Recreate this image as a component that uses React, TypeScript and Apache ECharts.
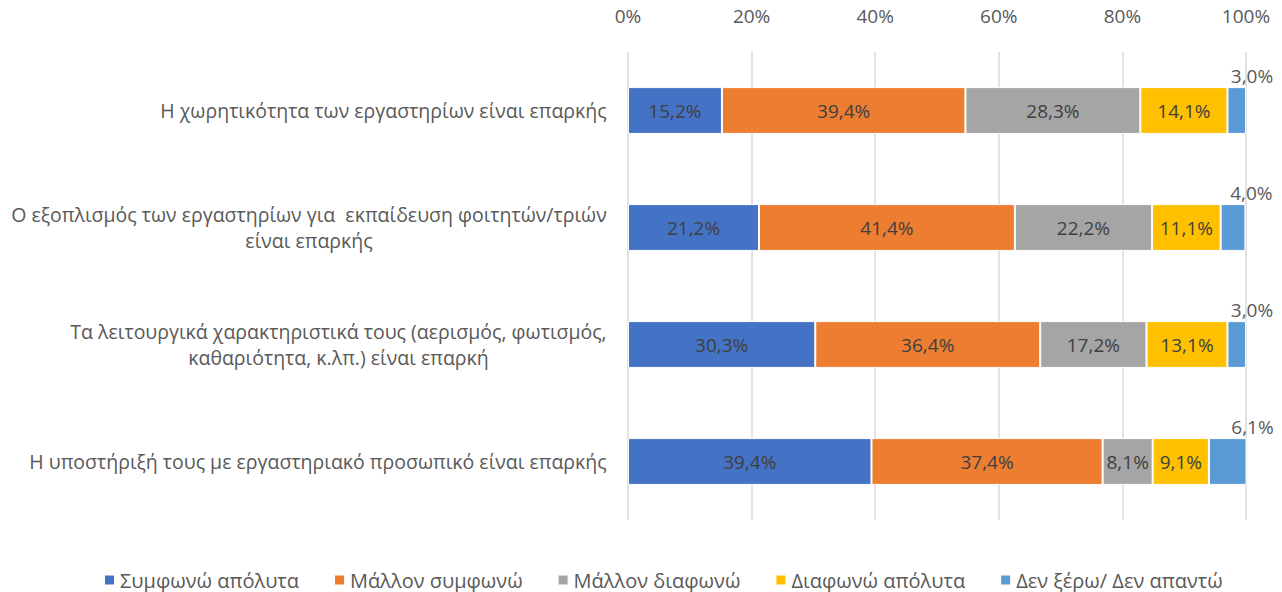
import React, { useEffect, useRef } from "react";
import * as echarts from "echarts";

const categories = [
  "Η χωρητικότητα των εργαστηρίων είναι επαρκής",
  "Ο εξοπλισμός των εργαστηρίων για  εκπαίδευση φοιτητών/τριών\nείναι επαρκής",
  "Τα λειτουργικά χαρακτηριστικά τους (αερισμός, φωτισμός,\nκαθαριότητα, κ.λπ.) είναι επαρκή",
  "Η υποστήριξή τους με εργαστηριακό προσωπικό είναι επαρκής",
];
const seriesNames = [
  "Συμφωνώ απόλυτα",
  "Μάλλον συμφωνώ",
  "Μάλλον διαφωνώ",
  "Διαφωνώ απόλυτα",
  "Δεν ξέρω/ Δεν απαντώ",
];
const agreeFully = [15.2, 21.2, 30.3, 39.4];
const ratherAgree = [39.4, 41.4, 36.4, 37.4];
const ratherDisagree = [28.3, 22.2, 17.2, 8.1];
const disagreeFully = [14.1, 11.1, 13.1, 9.1];
const dontKnow = [3.0, 4.0, 3.0, 6.1];
const xTicks = [0, 20, 40, 60, 80, 100];

const colors = ["#4472C4", "#ED7D31", "#A5A5A5", "#FFC000", "#5B9BD5"];
const FONT = "'Open Sans', 'Noto Sans', sans-serif";
const FS = 19;
const CAT_FS = 19.5;

function measure(text: string): number {
  const c = document.createElement("canvas").getContext("2d");
  if (!c) return text.length * 10;
  c.font = `${CAT_FS}px 'Open Sans'`;
  return c.measureText(text).width;
}

export default function App() {
  const ref = useRef<HTMLDivElement>(null);
  useEffect(() => {
    document.body.style.margin = "0";
    if (!ref.current) return;
    const chart = echarts.init(ref.current, undefined, { renderer: "svg" });
    const allSeries = [agreeFully, ratherAgree, ratherDisagree, disagreeFully, dontKnow];
    const fmt = (v: number) => v.toFixed(1).replace(".", ",") + "%";

    const rich: Record<string, any> = {};
    categories.forEach((c, i) => {
      const lines = c.split("\n");
      const w = Math.max(...lines.map(measure));
      rich["c" + i] = {
        width: Math.ceil(w) + 2,
        align: "center",
        fontFamily: FONT,
        fontSize: CAT_FS,
        color: "#595959",
        lineHeight: 26,
      };
    });

    chart.setOption({
      animation: false,
      textStyle: { fontFamily: FONT },
      grid: { left: 628, right: 36, top: 52, bottom: 72, containLabel: false },
      legend: {
        bottom: 0,
        padding: [0, 5, 2, 5],
        left: 98,
        itemWidth: 11,
        itemHeight: 11,
        itemGap: 34,
        icon: "rect",
        textStyle: { color: "#595959", fontSize: 20, fontFamily: FONT },
        data: seriesNames,
      },
      xAxis: {
        type: "value",
        position: "top",
        min: 0,
        max: 100,
        interval: 20,
        axisLine: { show: false },
        axisTick: { show: false },
        axisLabel: {
          color: "#595959",
          fontSize: FS,
          margin: 27,
          formatter: (v: number) => (xTicks.includes(v) ? v + "%" : ""),
        },
        splitLine: { show: true, lineStyle: { color: "#D9D9D9", width: 1.5 } },
      },
      yAxis: {
        type: "category",
        inverse: true,
        data: categories,
        axisLine: { show: false },
        axisTick: { show: false },
        axisLabel: {
          margin: 20,
          formatter: (v: string) => {
            const i = categories.indexOf(v);
            return v
              .split("\n")
              .map((l) => `{c${i}|${l}}`)
              .join("\n");
          },
          rich,
        },
      },
      series: allSeries.map((d, si) => ({
        name: seriesNames[si],
        type: "bar",
        stack: "total",
        data: d,
        barCategoryGap: "60%",
        itemStyle: { color: colors[si], borderColor: "#FFFFFF", borderWidth: 1 },
        label:
          si === 4
            ? {
                show: true,
                position: ["100%", 0],
                align: "center",
                verticalAlign: "bottom",
                offset: [6, -2],
                color: "#595959",
                fontSize: FS,
                fontFamily: FONT,
                formatter: (p: any) => fmt(p.value),
              }
            : {
                show: true,
                position: "inside",
                color: "#404040",
                fontSize: FS,
                fontFamily: FONT,
                formatter: (p: any) => fmt(p.value),
              },
      })),
    });
    return () => chart.dispose();
  }, []);
  return <div ref={ref} style={{ width: 1282, height: 592 }} />;
}
